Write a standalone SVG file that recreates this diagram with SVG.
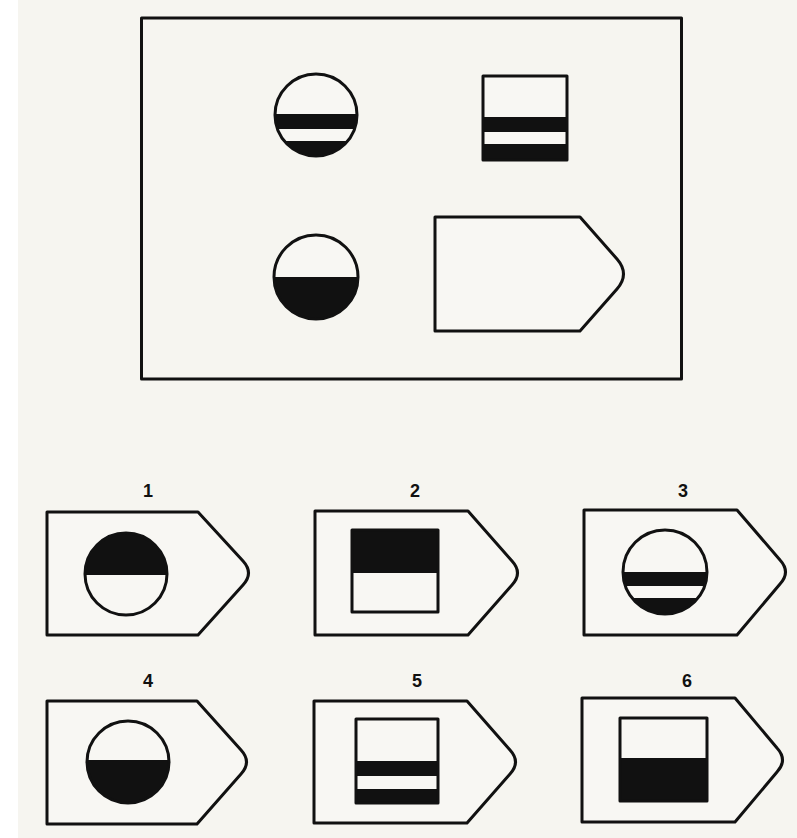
<svg xmlns="http://www.w3.org/2000/svg" width="797" height="838" viewBox="0 0 797 838">
<style>
.o{fill:none;stroke:#111;stroke-width:3;stroke-linejoin:round}
.w{fill:#f8f7f3}
.k{fill:#111}
.lbl{font-family:"Liberation Sans",Arial,sans-serif;font-weight:bold;font-size:18px;fill:#111;text-anchor:middle}
</style>
<defs>
<clipPath id="c1"><circle cx="316" cy="115" r="41"/></clipPath>
<clipPath id="c2"><circle cx="316" cy="277" r="42"/></clipPath>
<clipPath id="c3"><circle cx="126" cy="574" r="41"/></clipPath>
<clipPath id="c4"><circle cx="665" cy="572" r="42"/></clipPath>
<clipPath id="c5"><circle cx="128" cy="762" r="41"/></clipPath>
</defs>
<rect width="797" height="838" fill="#f6f5f0"/>
<rect width="18" height="838" fill="#ffffff"/>

<g id="matrix">
<rect class="o" x="141.5" y="18" width="540" height="361"/>
</g>

<g id="m11">
<circle cx="316" cy="115" r="41" class="w"/>
<g clip-path="url(#c1)"><rect class="k" x="270" y="114" width="92" height="15"/><rect class="k" x="270" y="141" width="92" height="20"/></g>
<circle cx="316" cy="115" r="41" class="o"/>
</g>

<g id="m12">
<rect x="483" y="76" width="84" height="84" class="w"/>
<rect class="k" x="483" y="117" width="84" height="15"/>
<rect class="k" x="483" y="144" width="84" height="16"/>
<rect x="483" y="76" width="84" height="84" class="o"/>
</g>

<g id="m21">
<circle cx="316" cy="277" r="42" class="w"/>
<g clip-path="url(#c2)"><rect class="k" x="270" y="277" width="92" height="45"/></g>
<circle cx="316" cy="277" r="42" class="o"/>
</g>

<g id="m22">
<path class="o w" d="M435,217 H580 L617,259 Q630,274 617,289 L580,331 H435 Z"/>
</g>

<g id="opt1">
<text class="lbl" x="148" y="497">1</text>
<path class="o w" d="M47,512 H198 L243,561 Q254,573 243,585 L198,635 H47 Z"/>
<circle cx="126" cy="574" r="41" class="w"/>
<g clip-path="url(#c3)"><rect class="k" x="80" y="530" width="92" height="45"/></g>
<circle cx="126" cy="574" r="41" class="o"/>
</g>

<g id="opt2">
<text class="lbl" x="415" y="497">2</text>
<path class="o w" d="M315,511 H468 L512,561 Q523,573 512,585 L468,635 H315 Z"/>
<rect x="352" y="530" width="86" height="82" class="w"/>
<rect class="k" x="352" y="530" width="86" height="43"/>
<rect x="352" y="530" width="86" height="82" class="o"/>
</g>

<g id="opt3">
<text class="lbl" x="683" y="497">3</text>
<path class="o w" d="M584,510 H737 L780,560 Q791,572 780,584 L737,635 H584 Z"/>
<circle cx="665" cy="572" r="42" class="w"/>
<g clip-path="url(#c4)"><rect class="k" x="620" y="572" width="92" height="14"/><rect class="k" x="620" y="598" width="92" height="20"/></g>
<circle cx="665" cy="572" r="42" class="o"/>
</g>

<g id="opt4">
<text class="lbl" x="148" y="687">4</text>
<path class="o w" d="M47,701 H197 L241,750 Q252,762 241,774 L197,824 H47 Z"/>
<circle cx="128" cy="762" r="41" class="w"/>
<g clip-path="url(#c5)"><rect class="k" x="84" y="760" width="92" height="46"/></g>
<circle cx="128" cy="762" r="41" class="o"/>
</g>

<g id="opt5">
<text class="lbl" x="417" y="687">5</text>
<path class="o w" d="M314,701 H467 L510,750 Q521,762 510,774 L467,823 H314 Z"/>
<rect x="356" y="719" width="82" height="84" class="w"/>
<rect class="k" x="356" y="761" width="82" height="15"/>
<rect class="k" x="356" y="789" width="82" height="14"/>
<rect x="356" y="719" width="82" height="84" class="o"/>
</g>

<g id="opt6">
<text class="lbl" x="687" y="687">6</text>
<path class="o w" d="M582,698 H735 L777,748 Q788,760 777,772 L735,822 H582 Z"/>
<rect x="620" y="718" width="87" height="83" class="w"/>
<rect class="k" x="620" y="758" width="87" height="43"/>
<rect x="620" y="718" width="87" height="83" class="o"/>
</g>

<g id="connectors"></g>
</svg>
